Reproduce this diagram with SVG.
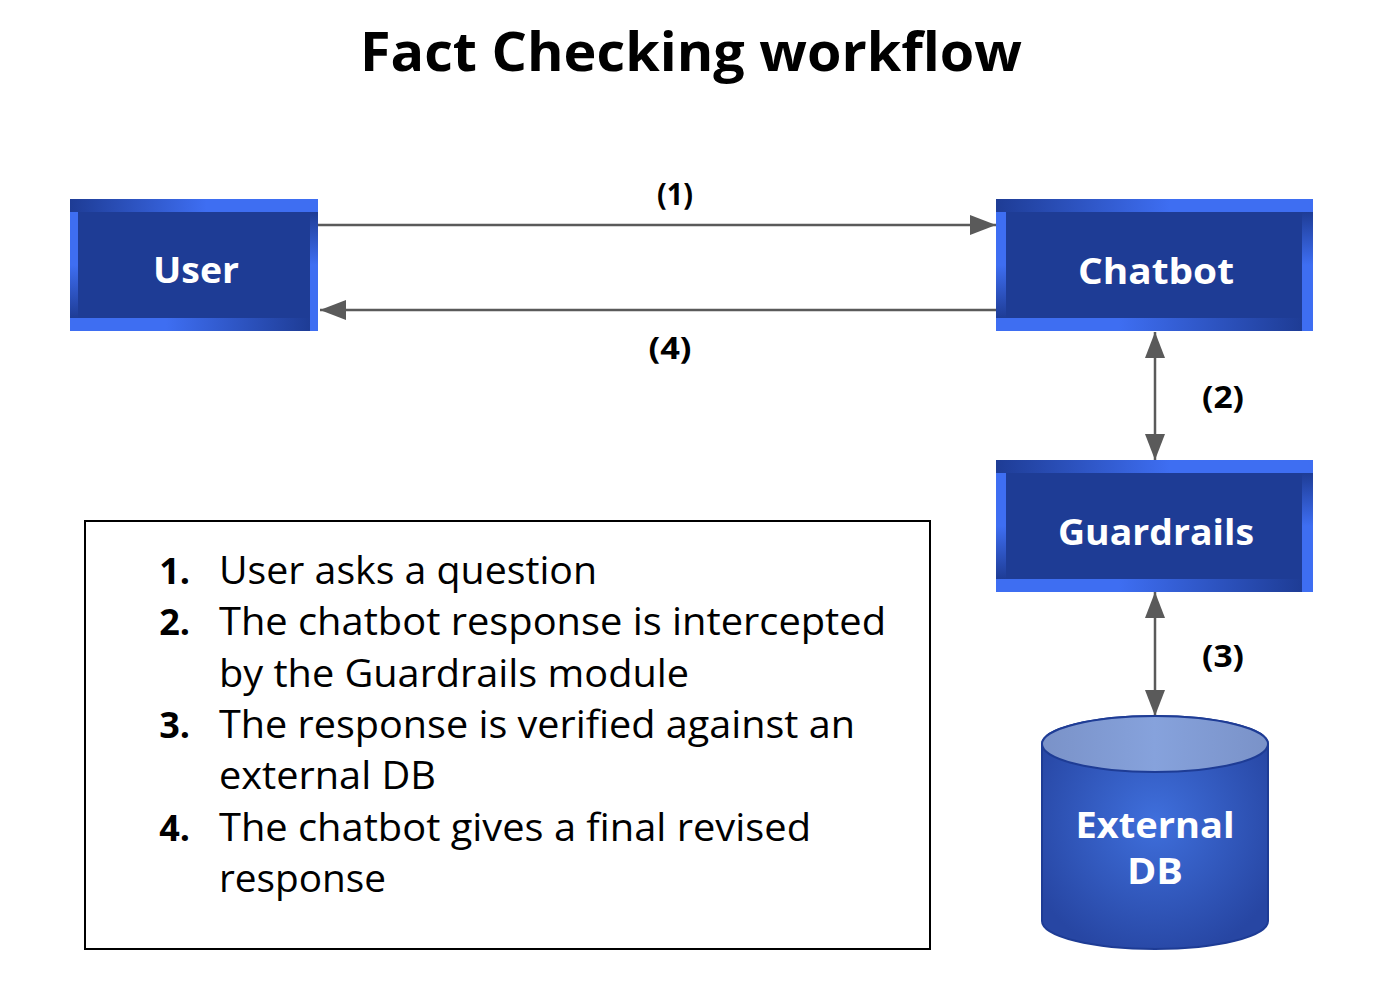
<svg xmlns="http://www.w3.org/2000/svg" width="1376" height="1004" viewBox="0 0 1376 1004">
<defs>
<style>
.title{font-family:"Open Sans","DejaVu Sans",sans-serif;font-weight:700;font-size:54px;fill:#000}
.nl{font-family:"Open Sans","DejaVu Sans",sans-serif;font-weight:700;font-size:36px;fill:#fff}
.al{font-family:"Open Sans","DejaVu Sans",sans-serif;font-weight:700;font-size:30px;fill:#000}
.li{font-family:"Open Sans","DejaVu Sans",sans-serif;font-size:38px;fill:#000}
.ln{font-family:"Open Sans","DejaVu Sans",sans-serif;font-weight:700;font-size:36px;fill:#000}
.conn{stroke:#5a5a5a;stroke-width:2.5;fill:none}
.frame{fill:#3e6ef2}
.inner{fill:#1e3c95}
</style>
<linearGradient id="topband" x1="0" y1="0" x2="1" y2="0">
<stop offset="0" stop-color="#1e3c95"/>
<stop offset="0.55" stop-color="#3e6ef2"/>
<stop offset="1" stop-color="#3e6ef2"/>
</linearGradient>
<linearGradient id="botband" x1="0" y1="0" x2="1" y2="0">
<stop offset="0" stop-color="#3e6ef2"/>
<stop offset="0.4" stop-color="#3e6ef2"/>
<stop offset="1" stop-color="#1e3c95"/>
</linearGradient>
<linearGradient id="sideband" x1="0" y1="0" x2="0" y2="1">
<stop offset="0" stop-color="#3e6ef2"/>
<stop offset="0.5" stop-color="#3e6ef2"/>
<stop offset="1" stop-color="#1e3c95"/>
</linearGradient>
<linearGradient id="rsideband" x1="0" y1="0" x2="0" y2="1">
<stop offset="0" stop-color="#1e3c95"/>
<stop offset="0.5" stop-color="#3e6ef2"/>
<stop offset="1" stop-color="#3e6ef2"/>
</linearGradient>
<radialGradient id="cylbody" cx="0.5" cy="0.45" r="0.6">
<stop offset="0" stop-color="#3f6fdc"/>
<stop offset="1" stop-color="#2746a3"/>
</radialGradient>
<linearGradient id="cyltop" x1="0" y1="0" x2="1" y2="0">
<stop offset="0" stop-color="#7a92c8"/>
<stop offset="0.5" stop-color="#86a2dc"/>
<stop offset="1" stop-color="#7a92c8"/>
</linearGradient>
<marker id="arr" markerUnits="userSpaceOnUse" markerWidth="26" markerHeight="20" refX="26" refY="10" orient="auto-start-reverse">
<path d="M0,0 L26,10 L0,20 Z" fill="#5a5a5a"/>
</marker>
</defs>
<rect width="1376" height="1004" fill="#fff"/>
<text class="title" x="691" y="71" text-anchor="middle" textLength="662" lengthAdjust="spacingAndGlyphs">Fact Checking workflow</text>

<g id="connectors">
<line class="conn" x1="318" y1="225" x2="996" y2="225" marker-end="url(#arr)"/>
<line class="conn" x1="996" y1="310" x2="320" y2="310" marker-end="url(#arr)"/>
<line class="conn" x1="1155" y1="332" x2="1155" y2="460" marker-start="url(#arr)" marker-end="url(#arr)"/>
<line class="conn" x1="1155" y1="592" x2="1155" y2="716" marker-start="url(#arr)" marker-end="url(#arr)"/>
<text class="al" x="675" y="205" text-anchor="middle" textLength="36" lengthAdjust="spacingAndGlyphs">(1)</text>
<text class="al" x="670" y="359" text-anchor="middle" textLength="43" lengthAdjust="spacingAndGlyphs">(4)</text>
<text class="al" x="1223" y="408" text-anchor="middle" textLength="42" lengthAdjust="spacingAndGlyphs">(2)</text>
<text class="al" x="1223" y="667" text-anchor="middle" textLength="42" lengthAdjust="spacingAndGlyphs">(3)</text>
</g>

<g id="user">
<rect class="frame" x="70" y="199" width="248" height="132"/>
<rect x="70" y="199" width="248" height="13" fill="url(#topband)"/>
<rect x="70" y="318" width="240" height="13" fill="url(#botband)"/>
<rect x="70" y="212" width="8" height="106" fill="url(#sideband)"/>
<rect x="310" y="212" width="8" height="106" fill="url(#rsideband)"/>
<rect class="inner" x="78" y="212" width="232" height="106"/>
<text class="nl" x="196" y="283" text-anchor="middle" textLength="86" lengthAdjust="spacingAndGlyphs">User</text>
</g>

<g id="chatbot">
<rect class="frame" x="996" y="199" width="317" height="132"/>
<rect x="996" y="199" width="317" height="13" fill="url(#topband)"/>
<rect x="996" y="318" width="306" height="13" fill="url(#botband)"/>
<rect x="996" y="212" width="10" height="106" fill="url(#sideband)"/>
<rect x="1302" y="212" width="11" height="106" fill="url(#rsideband)"/>
<rect class="inner" x="1006" y="212" width="296" height="106"/>
<text class="nl" x="1156" y="284" text-anchor="middle" textLength="156" lengthAdjust="spacingAndGlyphs">Chatbot</text>
</g>

<g id="guardrails">
<rect class="frame" x="996" y="460" width="317" height="132"/>
<rect x="996" y="460" width="317" height="13" fill="url(#topband)"/>
<rect x="996" y="579" width="306" height="13" fill="url(#botband)"/>
<rect x="996" y="473" width="10" height="106" fill="url(#sideband)"/>
<rect x="1302" y="473" width="11" height="106" fill="url(#rsideband)"/>
<rect class="inner" x="1006" y="473" width="296" height="106"/>
<text class="nl" x="1156" y="545" text-anchor="middle" textLength="196" lengthAdjust="spacingAndGlyphs">Guardrails</text>
</g>

<g id="externaldb">
<path d="M1042,744 L1042,921 A113,28 0 0 0 1268,921 L1268,744 A113,28 0 0 0 1042,744 Z" fill="url(#cylbody)" stroke="#1e3c95" stroke-width="2"/>
<ellipse cx="1155" cy="744" rx="113" ry="28" fill="url(#cyltop)" stroke="#1e3c95" stroke-width="2"/>
<text class="nl" x="1155" y="838" text-anchor="middle" textLength="159" lengthAdjust="spacingAndGlyphs">External</text>
<text class="nl" x="1155" y="884" text-anchor="middle" textLength="56" lengthAdjust="spacingAndGlyphs">DB</text>
</g>

<g id="legend">
<rect x="85" y="521" width="845" height="428" fill="#fff" stroke="#000" stroke-width="2"/>
<text class="ln" x="190" y="584" text-anchor="end">1.</text>
<text class="li" x="219" y="584" textLength="378" lengthAdjust="spacingAndGlyphs">User asks a question</text>
<text class="ln" x="190" y="635" text-anchor="end">2.</text>
<text class="li" x="219" y="635" textLength="667" lengthAdjust="spacingAndGlyphs">The chatbot response is intercepted</text>
<text class="li" x="219" y="687" textLength="470" lengthAdjust="spacingAndGlyphs">by the Guardrails module</text>
<text class="ln" x="190" y="738" text-anchor="end">3.</text>
<text class="li" x="219" y="738" textLength="636" lengthAdjust="spacingAndGlyphs">The response is verified against an</text>
<text class="li" x="219" y="789" textLength="217" lengthAdjust="spacingAndGlyphs">external DB</text>
<text class="ln" x="190" y="841" text-anchor="end">4.</text>
<text class="li" x="219" y="841" textLength="592" lengthAdjust="spacingAndGlyphs">The chatbot gives a final revised</text>
<text class="li" x="219" y="892" textLength="167" lengthAdjust="spacingAndGlyphs">response</text>
</g>
</svg>
